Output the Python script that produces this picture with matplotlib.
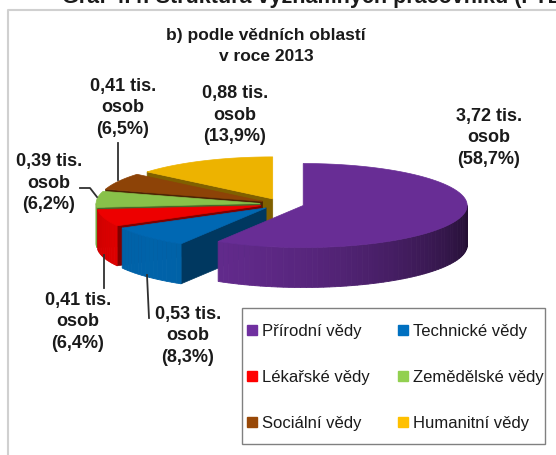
import numpy as np
import matplotlib
matplotlib.use("Agg")
import matplotlib.pyplot as plt
from matplotlib.patches import Polygon, Rectangle
from matplotlib.lines import Line2D
from matplotlib.colors import to_rgb

plt.rcParams['font.family'] = ['Liberation Sans', 'DejaVu Sans']

# data (tis. osob, podíl v %)
categories = ["Přírodní vědy", "Technické vědy", "Lékařské vědy",
              "Zemědělské vědy", "Sociální vědy", "Humanitní vědy"]
values = [3.72, 0.53, 0.41, 0.39, 0.41, 0.88]
shares = [58.7, 8.3, 6.4, 6.2, 6.5, 13.9]
colors = ["#7030A0", "#0070C0", "#FF0000", "#92D050", "#984807", "#FFC000"]

# layout (pixels)
W, H = 556, 455
cx, cy = 282, 204
rx, ry = 164, 42
depth = 40
explode = 22
label_xy = [(489, 138), (188, 336), (78, 322), (49, 183), (123, 108), (235, 115)]
leaders = [None, [(149, 318), (147, 275)], [(104, 288), (104, 255)],
           [(80, 188), (90, 188), (97, 197)], [(118, 143), (118, 180)], None]

fig = plt.figure(figsize=(W / 100, H / 100), dpi=100)
ax = fig.add_axes([0, 0, 1, 1])
ax.set_xlim(0, W)
ax.set_ylim(H, 0)
ax.axis('off')


def shade(c, f):
    r, g, b = to_rgb(c)
    return (r * f, g * f, b * f)


def rim(c, th, dz=0):
    return (c[0] + rx * np.cos(th), c[1] - ry * np.sin(th) + dz)


vals = np.array(values)
spans = vals / vals.sum() * 360
a0s = 90 - np.concatenate([[0], np.cumsum(spans)[:-1]])
a1s = a0s - spans

slices = []
for i in range(len(values)):
    a0, a1 = a0s[i], a1s[i]
    am = np.radians((a0 + a1) / 2)
    c = (cx + explode * np.cos(am), cy - explode * ry / rx * np.sin(am))
    th = np.radians(np.linspace(a1, a0, 60))
    front = np.max(c[1] - ry * np.sin(th))
    slices.append((front, i, c))

slices.sort()

for _, i, c in slices:
    a0, a1 = a0s[i], a1s[i]
    col = colors[i]
    # cut faces
    for a, vis in ((a0, np.cos(np.radians(a0)) < -1e-6), (a1, np.cos(np.radians(a1)) > 1e-6)):
        if vis:
            t = np.radians(a)
            p = [c, rim(c, t), rim(c, t, depth), (c[0], c[1] + depth)]
            ax.add_patch(Polygon(p, closed=True, fc=shade(col, 0.5), ec=shade(col, 0.5), lw=0.5))
    # outer wall (front half only), shaded strips
    lo, hi = max(a1, -180), min(a0, 0)
    if lo < hi:
        edges = np.linspace(lo, hi, max(2, int((hi - lo) / 2) + 1))
        for k in range(len(edges) - 1):
            t0, t1 = np.radians(edges[k]), np.radians(edges[k + 1])
            tm = (t0 + t1) / 2
            f = 0.55 + 0.33 * np.cos(tm - np.radians(225))
            p = [rim(c, t0), rim(c, t1), rim(c, t1, depth), rim(c, t0, depth)]
            ax.add_patch(Polygon(p, closed=True, fc=shade(col, f), ec=shade(col, f), lw=0.6))
    # top face
    th = np.radians(np.linspace(a0, a1, 80))
    p = [c] + [rim(c, t) for t in th]
    ax.add_patch(Polygon(p, closed=True, fc=shade(col, 0.93), ec=shade(col, 0.93), lw=0.5))

# data labels
for i in range(len(values)):
    txt = "{} tis.\nosob\n({}%)".format(f"{values[i]:.2f}".replace('.', ','),
                                         f"{shares[i]:.1f}".replace('.', ','))
    ax.text(label_xy[i][0], label_xy[i][1], txt, ha='center', va='center',
            fontsize=13, fontweight='bold', linespacing=1.32, color='#1a1a1a')
    if leaders[i]:
        xs, ys = zip(*leaders[i])
        ax.plot(xs, ys, color='#303030', lw=1.3)

# frame of the chart area
ax.plot([7.5, 7.5, W + 5], [H + 5, 10, 10], color='#D0D0D0', lw=1.5, clip_on=False)

# titles
fig.text(62 / W, 1 - 2.5 / H, "Graf 4.4: Struktura významných pracovníků (FTE) v ČR",
         ha='left', va='baseline', fontsize=15.5, fontweight='bold', color='#1a1a1a')
fig.text(266 / W, 1 - 46 / H, "b) podle vědních oblastí\nv roce 2013", ha='center',
         va='center', fontsize=12.5, fontweight='bold', linespacing=1.45, color='#1a1a1a')

# legend box + entries
ax.add_patch(Rectangle((242, 308), 303, 136, fc='white', ec='#808080', lw=1.0, zorder=4))
order = [0, 2, 4, 1, 3, 5]
handles = [Line2D([], [], marker='s', ls='', ms=6.5, color=colors[k]) for k in order]
leg = ax.legend(handles, [categories[k] for k in order], ncol=2, loc='upper left',
                bbox_to_anchor=(247 / W, 1 - 324 / H), bbox_transform=fig.transFigure,
                frameon=False, fontsize=12,
                labelspacing=1.85, columnspacing=1.7, handlelength=0.6,
                handletextpad=0.3, borderpad=0, borderaxespad=0)
leg.set_zorder(5)
for t in leg.get_texts():
    t.set_color('#1a1a1a')

fig.savefig("out.png", dpi=100)
